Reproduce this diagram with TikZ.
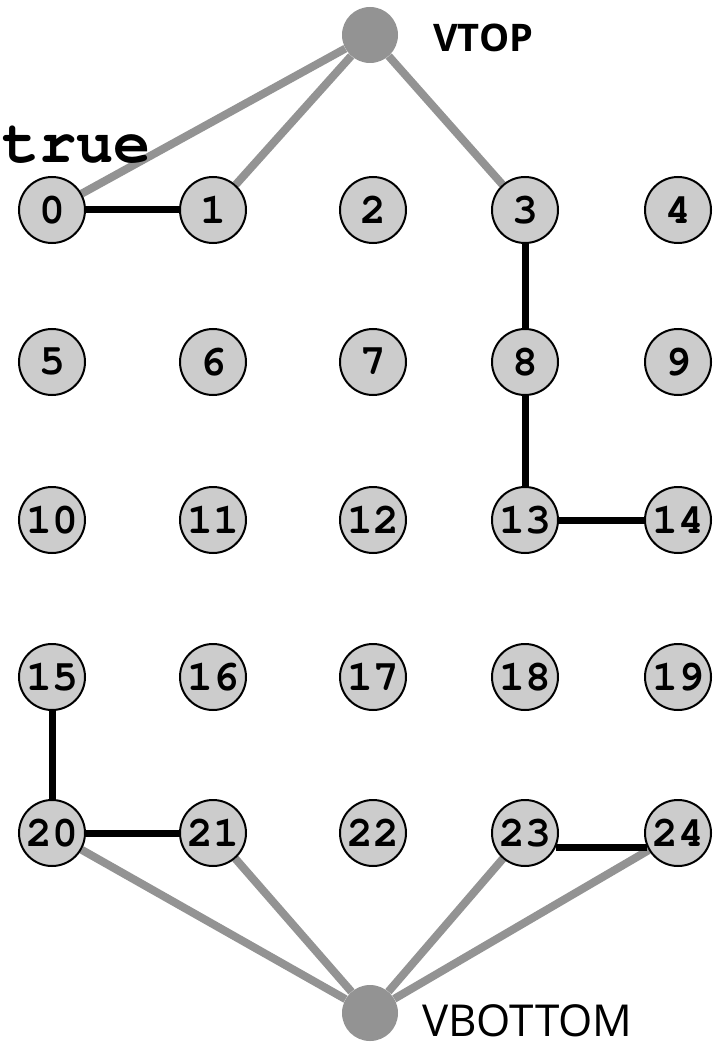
\documentclass[tikz,border=0pt]{standalone}
\usepackage[T1]{fontenc}
\usepackage{fontspec}
\setmainfont{Open Sans}
\newcommand\gridmono{\fontencoding{T1}\fontfamily{pcr}\fontseries{b}\selectfont}
\usetikzlibrary{backgrounds}
\definecolor{cellfill}{HTML}{CCCCCC}
\definecolor{linkgray}{HTML}{939393}
\tikzset{
  cellnode/.style={circle, draw=black, fill=cellfill, line width=2pt,
    minimum size=66pt, inner sep=0pt,
    font=\gridmono\fontsize{43}{43}\selectfont},
  virtnode/.style={circle, fill=linkgray, minimum size=56pt, inner sep=0pt},
  virtlabel/.style={font=\fontsize{38}{38}\selectfont, text=black, inner sep=0pt},
  graylink/.style={draw=linkgray, line width=8pt},
  blacklink/.style={draw=black, line width=7pt}
}
\begin{document}
\begin{tikzpicture}[x=1pt,y=-1pt]
  \useasboundingbox (0,0) rectangle (718,1048);
  % 5x5 grid of cells
  \foreach \r/\y in {0/210,1/362,2/520,3/677,4/833} {
    \foreach \c/\x in {0/52,1/213,2/373,3/525,4/678} {
      \pgfmathtruncatemacro\idx{5*\r+\c}
      \node[cellnode] (n\idx) at (\x,\y) {\idx};
    }
  }
  \node[virtnode] (vtop) at (370,35) {};
  \node[virtnode] (vbot) at (370,1013) {};
  \node[virtlabel, font=\bfseries\fontsize{38}{38}\selectfont, anchor=base west] (vtoplab) at (433,52) {VTOP};
  \node[virtlabel, font=\fontsize{44}{44}\selectfont, anchor=base west] (vbotlab) at (422,1036) {VBOTTOM};
  \node[inner sep=0pt, anchor=base west, font=\gridmono\fontsize{62}{62}\selectfont] (truelab) at (2,163) {true};

  \begin{scope}[on background layer]
    \foreach \t in {0,1,3} \draw[graylink] (vtop) -- (n\t);
    \foreach \b in {20,21,23,24} \draw[graylink] (vbot) -- (n\b);
    \draw[blacklink] (n0) -- (n1);
    \draw[blacklink] (n3) -- (n8);
    \draw[blacklink] (n8) -- (n13);
    \draw[blacklink] (n13) -- (n14);
    \draw[blacklink] (n15) -- (n20);
    \draw[blacklink] (n20) -- (n21);
    \draw[blacklink] (n23.-25) -- (n24.205);
  \end{scope}
\end{tikzpicture}
\end{document}
